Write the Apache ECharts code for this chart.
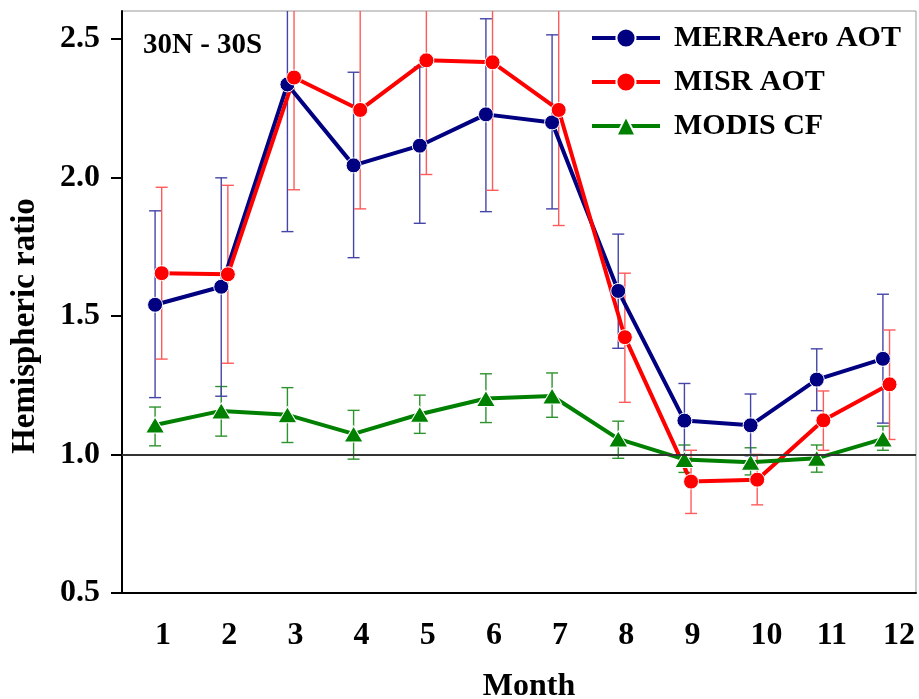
<!DOCTYPE html>
<html>
<head>
<meta charset="utf-8">
<script src="https://cdn.jsdelivr.net/npm/echarts@6/dist/echarts.min.js"></script>
<style>html,body{margin:0;padding:0;background:#fff}#c{width:919px;height:699px}</style>
</head>
<body>
<div id="c"></div>
<script>
var months = [1,2,3,4,5,6,7,8,9,10,11,12];
var monthLabels = ['1','2','3','4','5','6','7','8','9','10','11','12'];
var yTicks = [0.5, 1.0, 1.5, 2.0, 2.5];
var misrShift = 0.1;

var merra     = [1.540, 1.605, 2.335, 2.043, 2.114, 2.227, 2.198, 1.590, 1.122, 1.105, 1.270, 1.345];
var merraLow  = [1.205, 1.210, 1.804, 1.710, 1.834, 1.876, 1.886, 1.383, 0.974, 0.995, 1.158, 1.113];
var merraHigh = [1.879, 1.998, 2.866, 2.379, 2.398, 2.572, 2.514, 1.795, 1.256, 1.218, 1.381, 1.578];

var misr     = [1.654, 1.650, 2.360, 2.243, 2.422, 2.415, 2.243, 1.423, 0.902, 0.909, 1.123, 1.253];
var misrLow  = [1.344, 1.329, 1.955, 1.886, 2.010, 1.953, 1.826, 1.188, 0.787, 0.818, 1.015, 1.054];
var misrHigh = [1.964, 1.971, 2.765, 2.620, 2.834, 2.877, 2.660, 1.654, 1.015, 1.000, 1.229, 1.449];

var modis     = [1.106, 1.157, 1.143, 1.074, 1.145, 1.202, 1.211, 1.056, 0.982, 0.972, 0.986, 1.056];
var modisLow  = [1.031, 1.066, 1.043, 0.983, 1.076, 1.115, 1.134, 0.986, 0.935, 0.926, 0.936, 1.015];
var modisHigh = [1.171, 1.245, 1.241, 1.159, 1.214, 1.291, 1.294, 1.120, 1.034, 1.024, 1.034, 1.102];

var FONT = "'Liberation Serif','Times New Roman',serif";

function pts(xs, ys, shift) { return xs.map(function (m, i) { return [m + shift, ys[i]]; }); }
function errs(xs, lo, hi, shift) { return xs.map(function (m, i) { return [m + shift, lo[i], hi[i]]; }); }

function errRender(color) {
  return function (params, api) {
    var x = api.value(0), lo = api.value(1), hi = api.value(2);
    var a = api.coord([x, hi]), b = api.coord([x, lo]);
    var h = 6;
    var st = { stroke: color, lineWidth: 1.4 };
    return {
      type: 'group',
      children: [
        { type: 'line', shape: { x1: a[0], y1: a[1], x2: b[0], y2: b[1] }, style: st },
        { type: 'line', shape: { x1: a[0] - h, y1: a[1], x2: a[0] + h, y2: a[1] }, style: st },
        { type: 'line', shape: { x1: b[0] - h, y1: b[1], x2: b[0] + h, y2: b[1] }, style: st }
      ]
    };
  };
}

function errSeries(data, color, extra) {
  var s = {
    type: 'custom', xAxisIndex: 1, yAxisIndex: 0, z: 1, clip: true, silent: true,
    renderItem: errRender(color), encode: { x: 0, y: [1, 2] }, data: data
  };
  if (extra) for (var k in extra) s[k] = extra[k];
  return s;
}

function lineSeries(name, data, color, symbol, size) {
  return {
    name: name, type: 'line', xAxisIndex: 1, yAxisIndex: 0, z: 3,
    data: data, symbol: symbol, symbolSize: size, showSymbol: true,
    lineStyle: { color: color, width: 4 },
    itemStyle: { color: color, borderColor: '#fff', borderWidth: 1 },
    clip: true, animation: false
  };
}

var chart = echarts.init(document.getElementById('c'), null, { renderer: 'canvas' });
chart.setOption({
  animation: false,
  backgroundColor: '#fff',
  title: {
    text: '30N - 30S', left: 143, top: 31, padding: 0,
    textStyle: { fontFamily: FONT, fontSize: 29, fontWeight: 'bold', color: '#000' }
  },
  legend: {
    orient: 'vertical', left: 590, top: 23, padding: 0,
    itemWidth: 68, itemHeight: 24, itemGap: 14,
    lineStyle: { width: 4 },
    data: ['MERRAero AOT', 'MISR AOT', 'MODIS CF'],
    textStyle: { fontFamily: FONT, fontSize: 30, fontWeight: 'bold', color: '#000', padding: [0, 0, 0, 9] }
  },
  grid: { left: 122, right: 3, top: 11, bottom: 106, show: true, borderColor: '#999', borderWidth: 1,
          containLabel: false, outerBoundsMode: 'none' },
  xAxis: [
    {
      type: 'category', data: monthLabels, boundaryGap: true, position: 'bottom',
      name: 'Month', nameLocation: 'middle', nameGap: 78,
      nameTextStyle: { fontFamily: FONT, fontSize: 32, fontWeight: 'bold', color: '#000', padding: [0, 0, 0, 20] },
      axisLine: { lineStyle: { color: '#000', width: 2 } },
      axisTick: { alignWithLabel: true, length: 11, lineStyle: { color: '#000', width: 2 } },
      axisLabel: { align: 'left', margin: 27, fontFamily: FONT, fontSize: 32, fontWeight: 'bold', color: '#000' },
      splitLine: { show: false }
    },
    { type: 'value', min: 0.5, max: 12.5, show: false }
  ],
  yAxis: {
    type: 'value', min: 0.5, max: 2.6,
    name: 'Hemispheric ratio', nameLocation: 'middle', nameGap: 80, nameRotate: 90,
    nameTextStyle: { fontFamily: FONT, fontSize: 33, fontWeight: 'bold', color: '#000', padding: [0, 48, 0, 0] },
    axisLine: { show: true, lineStyle: { color: '#000', width: 2 } },
    axisTick: { show: true, length: 11, customValues: yTicks, lineStyle: { color: '#000', width: 2 } },
    axisLabel: {
      customValues: yTicks, margin: 22, fontFamily: FONT, fontSize: 32, fontWeight: 'bold', color: '#000',
      formatter: function (v) { return v.toFixed(1); }
    },
    splitLine: { show: false }
  },
  series: [
    errSeries(errs(months, modisLow, modisHigh, 0), '#2e922e', {
      markLine: {
        silent: true, symbol: ['none', 'none'], label: { show: false },
        lineStyle: { color: '#333', width: 2, type: 'solid' },
        data: [{ yAxis: 1.0 }], animation: false
      }
    }),
    errSeries(errs(months, merraLow, merraHigh, 0), '#4545a8'),
    errSeries(errs(months, misrLow, misrHigh, misrShift), '#ff5a5a'),
    lineSeries('MERRAero AOT', pts(months, merra, 0), '#000080', 'circle', 15),
    lineSeries('MISR AOT', pts(months, misr, misrShift), '#ff0000', 'circle', 15),
    lineSeries('MODIS CF', pts(months, modis, 0), '#008000', 'triangle', [19, 16])
  ]
});
</script>
</body>
</html>
